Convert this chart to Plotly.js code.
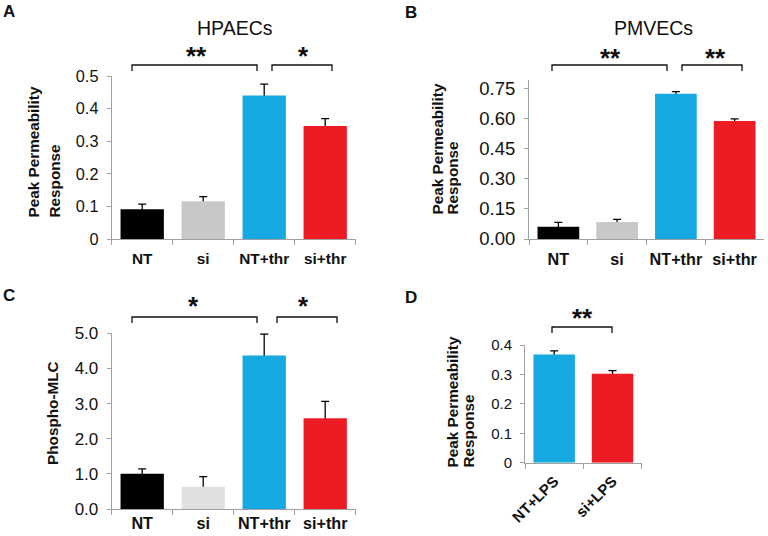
<!DOCTYPE html>
<html>
<head>
<meta charset="utf-8">
<script src="https://cdn.plot.ly/plotly-3.0.1.min.js"></script>
<style>
  html, body { margin: 0; padding: 0; background: #fff; }
  #plot { width: 768px; height: 536px; }
</style>
</head>
<body>
<div id="plot"></div>
<script>
// --- data ---
const groups = ["NT", "si", "NT+thr", "si+thr"];
const lpsGroups = ["NT+LPS", "si+LPS"];

const hpaecMean = [0.091, 0.116, 0.440, 0.347];
const hpaecErr  = [0.016, 0.014, 0.035, 0.022];

const pmvecMean = [0.061, 0.085, 0.722, 0.586];
const pmvecErr  = [0.022, 0.013, 0.010, 0.011];

const mlcMean = [1.00, 0.63, 4.37, 2.58];
const mlcErr  = [0.14, 0.29, 0.61, 0.48];

const lpsMean = [0.368, 0.302];
const lpsErr  = [0.012, 0.011];

const barColors  = ["#000000", "#c8c8c8", "#16a8e0", "#ed1c24"];
const barColorsC = ["#000000", "#e0e0e0", "#16a8e0", "#ed1c24"];
const lpsColors  = ["#16a8e0", "#ed1c24"];

// --- helpers ---
const W = 768, H = 536;
const FONT = 'Arial, "Liberation Sans", sans-serif';
const px = x => x / W;
const py = y => 1 - y / H;

// one bar trace carries the error bars (transparent), a second one on top hides the lower half
function panel(cats, mean, err, colors, xa, ya) {
    const withErr = {
        type: "bar", x: cats, y: mean, xaxis: xa, yaxis: ya,
        marker: { color: "rgba(0,0,0,0)" },
        error_y: { type: "data", array: err, visible: true, color: "#000", thickness: 1.3, width: 4 },
        showlegend: false, hoverinfo: "skip"
    };
    const bars = {
        type: "bar", x: cats, y: mean, xaxis: xa, yaxis: ya,
        marker: { color: colors, line: { width: 0 } },
        showlegend: false, hoverinfo: "skip"
    };
    return [withErr, bars];
}

function xAxis(x0, x1, yAnchor, fontSize, angle, standoff) {
    return {
        domain: [px(x0), px(x1)], anchor: yAnchor, type: "category",
        showline: true, linecolor: "#a0a0a0", linewidth: 1,
        ticks: "outside", tickson: "boundaries", ticklen: 5, tickcolor: "#a0a0a0",
        tickangle: angle,
        tickfont: { family: FONT, size: fontSize, color: "#111", weight: "bold" },
        ticklabelstandoff: standoff,
        showgrid: false, zeroline: false, fixedrange: true
    };
}

function yAxis(yTop, yBottom, xAnchor, range, dtick, fmt, fontSize) {
    return {
        domain: [py(yBottom), py(yTop)], anchor: xAnchor, range: range,
        tick0: 0, dtick: dtick, tickformat: fmt,
        showline: true, linecolor: "#a0a0a0", linewidth: 1,
        ticks: "outside", ticklen: 4, tickcolor: "#a0a0a0",
        tickfont: { family: FONT, size: fontSize, color: "#111" },
        ticklabelstandoff: 5,
        showgrid: false, zeroline: false, fixedrange: true
    };
}

function label(text, x, y, opts) {
    return Object.assign({
        text: text, xref: "paper", yref: "paper", x: px(x), y: py(y),
        showarrow: false, xanchor: "center", yanchor: "middle",
        font: { family: FONT, size: 14, color: "#111" }
    }, opts || {});
}

function yTitle(text, x, yBottom) {
    return label(text, x, yBottom, {
        textangle: -90, yanchor: "bottom",
        font: { family: FONT, size: 15.3, color: "#111", weight: "bold" }
    });
}

function stars(text, x, y) {
    return label(text, x, y, { font: { family: FONT, size: 26, color: "#111", weight: "bold" } });
}

function letter(text, x, y) {
    return label(text, x, y, { font: { family: FONT, size: 17, color: "#111", weight: "bold" } });
}

function bracket(x0, x1, yTop, yBot) {
    return {
        type: "path", xref: "paper", yref: "paper",
        path: `M${px(x0)},${py(yBot)} L${px(x0)},${py(yTop)} L${px(x1)},${py(yTop)} L${px(x1)},${py(yBot)}`,
        line: { color: "#111", width: 1.3 }
    };
}

const traces = [
    ...panel(groups, hpaecMean, hpaecErr, barColors, "x", "y"),
    ...panel(groups, pmvecMean, pmvecErr, barColors, "x2", "y2"),
    ...panel(groups, mlcMean, mlcErr, barColorsC, "x3", "y3"),
    ...panel(lpsGroups, lpsMean, lpsErr, lpsColors, "x4", "y4")
];

const layout = {
    width: W, height: H,
    margin: { l: 0, r: 0, t: 0, b: 0 },
    paper_bgcolor: "#fff", plot_bgcolor: "#fff",
    barmode: "overlay", bargap: 0.29,
    font: { family: FONT, color: "#111" },

    xaxis:  xAxis(111.7, 355.7, "y", 15.4, 0, 6),
    yaxis:  yAxis(76, 239, "x", [0, 0.5], 0.1, "", 16.3),
    xaxis2: xAxis(529, 764, "y2", 16.2, 0, 6),
    yaxis2: yAxis(80, 239, "x2", [0, 0.79], 0.15, ".2f", 18.5),
    xaxis3: xAxis(111.7, 355.7, "y3", 16.2, 0, 0),
    yaxis3: yAxis(333.3, 509, "x3", [0, 5], 1, ".1f", 17),
    xaxis4: xAxis(525, 641.7, "y4", 15, -45, 3),
    yaxis4: yAxis(345, 462.7, "x4", [0, 0.4], 0.1, "", 15),

    annotations: [
        // panel letters
        letter("A", 9, 12),
        letter("B", 411, 13),
        letter("C", 9, 295),
        letter("D", 411, 297),
        // panel titles
        label("HPAECs", 235, 28, { font: { family: FONT, size: 19.5, color: "#111" } }),
        label("PMVECs", 653, 28, { font: { family: FONT, size: 19.5, color: "#111" } }),
        // axis titles
        yTitle("Peak Permeability", 33, 220),
        yTitle("Response", 54, 220),
        yTitle("Peak Permeability", 437, 217),
        yTitle("Response", 452, 217),
        yTitle("Phospho-MLC", 52, 467),
        yTitle("Peak Permeability", 452, 470),
        yTitle("Response", 468, 470),
        // significance
        stars("**", 196, 56),
        stars("*", 303, 56),
        stars("**", 610, 58),
        stars("**", 715, 58),
        stars("*", 193, 306),
        stars("*", 303, 306),
        stars("**", 582, 318)
    ],
    shapes: [
        bracket(132, 257, 65, 71),
        bracket(272, 332, 65, 71),
        bracket(552, 667, 65, 71),
        bracket(682, 742, 65, 71),
        bracket(132, 257, 317, 323),
        bracket(277, 337, 317, 323),
        bracket(552, 612, 327, 333)
    ]
};

Plotly.newPlot("plot", traces, layout, { staticPlot: true, displayModeBar: false });
</script>
</body>
</html>
